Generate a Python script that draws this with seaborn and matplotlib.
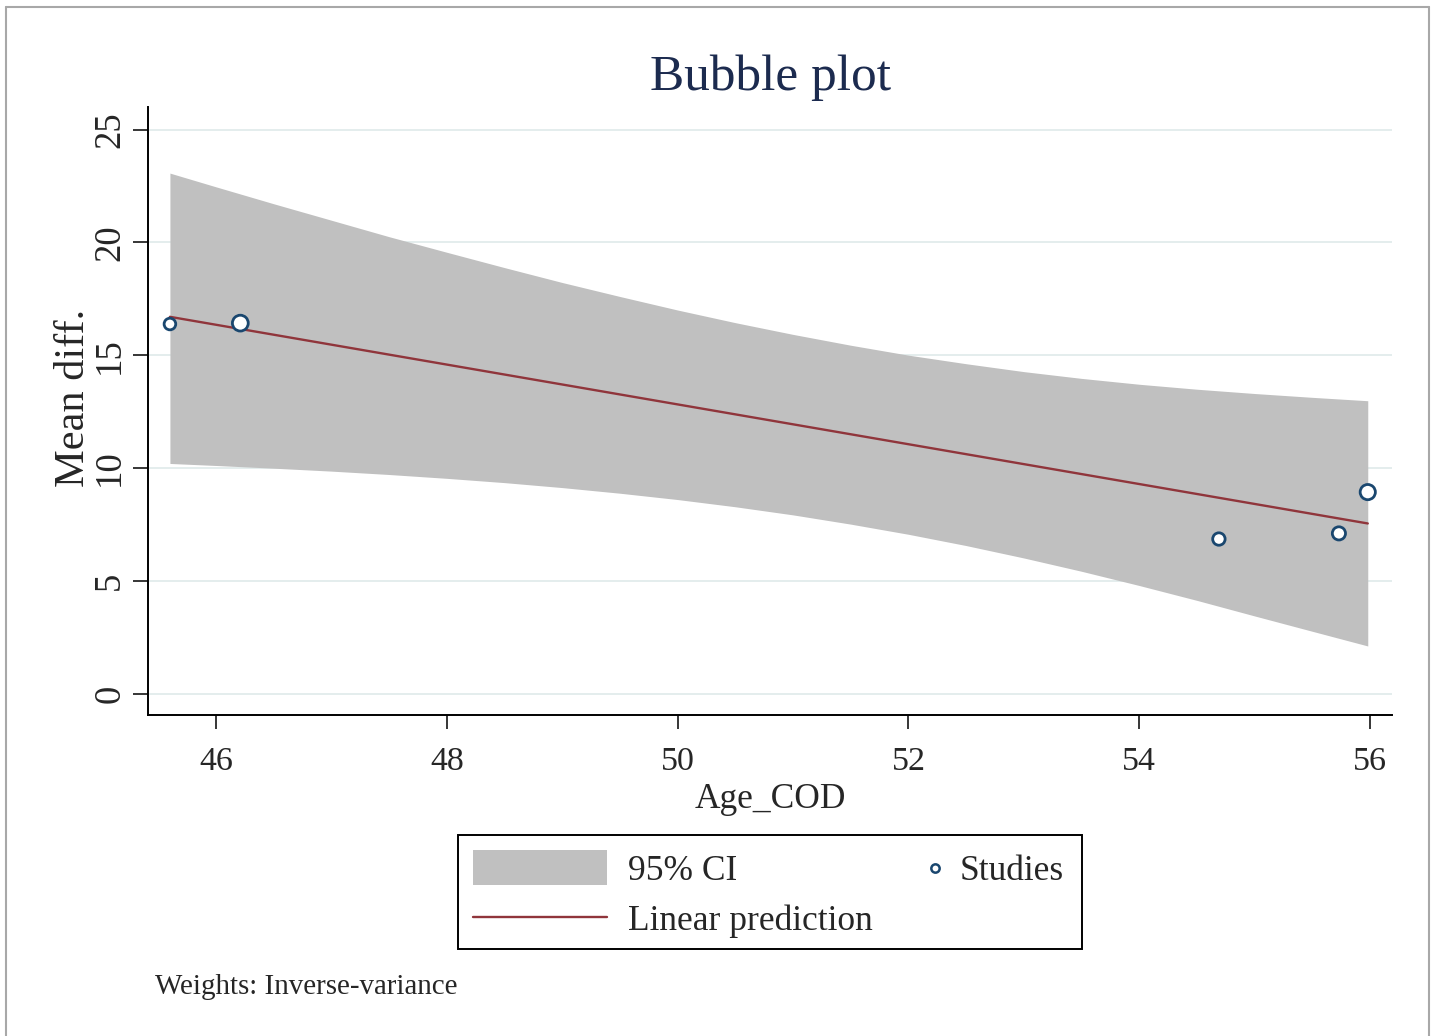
import matplotlib
matplotlib.use("Agg")
import matplotlib.pyplot as plt
from matplotlib.patches import Rectangle
from matplotlib.lines import Line2D
import pandas as pd
import seaborn as sns

# Study-level observations (x = mean age, y = mean difference, inverse-variance weight)
age_cod = [45.60, 46.21, 54.69, 55.73, 55.98]
mean_diff = [16.38, 16.42, 6.85, 7.10, 8.93]
weights = [0.6, 1.2, 0.7, 0.8, 1.1]

# Fitted meta-regression line
fit_x = [45.60, 55.98]
fit_y = [16.70, 7.54]

# 95% confidence band of the fitted line
ci_x = [45.60, 46.00, 46.50, 47.00, 47.50, 48.00, 48.50, 49.00, 49.50, 50.00, 50.50,
        51.00, 51.50, 52.00, 52.50, 53.00, 53.50, 54.00, 54.50, 55.00, 55.50, 55.98]
ci_upper = [23.07, 22.46, 21.71, 20.98, 20.25, 19.56, 18.88, 18.22, 17.60, 17.00, 16.44,
            15.92, 15.44, 15.00, 14.62, 14.27, 13.97, 13.71, 13.49, 13.30, 13.13, 12.98]
ci_lower = [10.20, 10.11, 9.99, 9.86, 9.71, 9.54, 9.35, 9.13, 8.88, 8.60, 8.28,
            7.92, 7.51, 7.06, 6.56, 6.01, 5.42, 4.79, 4.13, 3.44, 2.76, 2.11]

x_ticks = [46, 48, 50, 52, 54, 56]
y_ticks = [0, 5, 10, 15, 20, 25]

studies = pd.DataFrame({"Age_COD": age_cod, "Mean diff.": mean_diff, "w": weights})
fit = pd.DataFrame({"Age_COD": fit_x, "pred": fit_y})
band = pd.DataFrame({"Age_COD": ci_x, "upper": ci_upper, "lower": ci_lower})

sns.set_style("ticks")
plt.rcParams["font.family"] = ["Liberation Serif", "DejaVu Serif"]

NAVY = "#1a476f"
MAROON = "#90353b"
BAND = "#c0c0c0"
GRID = "#e4eded"

fig = plt.figure(figsize=(14.34, 10.36), dpi=100)
fig.patch.set_facecolor("white")
ax = fig.add_axes([148 / 1434, 1 - 715 / 1036, 1244 / 1434, 608 / 1036])

for yv in y_ticks:
    ax.axhline(yv, color=GRID, lw=1.4, zorder=0)

ax.fill_between(band["Age_COD"], band["upper"], band["lower"], color=BAND, lw=0, zorder=1)
sns.lineplot(data=fit, x="Age_COD", y="pred", color=MAROON, lw=1.7, ax=ax, zorder=2)
sns.scatterplot(data=studies, x="Age_COD", y="Mean diff.", size="w", sizes=(70, 130),
                color="white", edgecolor=NAVY, linewidth=2.0, legend=False, ax=ax, zorder=3)

ax.set_xlim(45.41, 56.19)
ax.set_ylim(-0.95, 26.0)
ax.set_xticks(x_ticks)
ax.set_yticks(y_ticks)
ax.set_xticklabels([str(v) for v in x_ticks], fontsize=24.5)
ax.set_yticklabels([str(v) for v in y_ticks], fontsize=26.5, rotation=90, va="center")
ax.tick_params(axis="y", direction="out", length=11, width=1.1, pad=4, color="black")
ax.tick_params(axis="x", direction="out", length=10, width=1.1, pad=13, color="black")
for s in ["top", "right"]:
    ax.spines[s].set_visible(False)
for s in ["left", "bottom"]:
    ax.spines[s].set_linewidth(1.4)
    ax.spines[s].set_color("black")

ax.set_xlabel("Age_COD", fontsize=25.5)
ax.xaxis.set_label_coords(0.5, -0.139)
ax.xaxis.label.set_va("center")
ax.set_ylabel("Mean diff.", fontsize=30.5)
ax.yaxis.set_label_coords(-0.0595, 0.521)
ax.yaxis.label.set_va("center")

ax.set_title("Bubble plot", fontsize=37, color="#1c2b4f", pad=12)

# Legend box
fig.add_artist(Rectangle((458 / 1434, 1 - 949 / 1036), 624 / 1434, 114 / 1036,
                         transform=fig.transFigure, fill=False, edgecolor="black", lw=1.4))
fig.add_artist(Rectangle((473 / 1434, 1 - 885 / 1036), 134 / 1434, 35 / 1036,
                         transform=fig.transFigure, facecolor=BAND, edgecolor="none"))
fig.add_artist(Line2D([473 / 1434, 607 / 1434], [1 - 917 / 1036, 1 - 917 / 1036],
                      transform=fig.transFigure, color=MAROON, lw=1.7))
fig.add_artist(Line2D([935 / 1434], [1 - 868 / 1036], transform=fig.transFigure,
                      marker="o", markersize=6, markerfacecolor="white",
                      markeredgecolor=NAVY, markeredgewidth=1.8, lw=0))
fig.text(628 / 1434, 1 - 872 / 1036, "95% CI", fontsize=25.5, va="center", ha="left")
fig.text(628 / 1434, 1 - 921 / 1036, "Linear prediction", fontsize=25.5, va="center", ha="left")
fig.text(960 / 1434, 1 - 872 / 1036, "Studies", fontsize=25.5, va="center", ha="left")

fig.text(155 / 1434, 1 - 987 / 1036, "Weights: Inverse-variance", fontsize=20.9,
         va="center", ha="left")

# Outer frame of the graph region
frame_kw = dict(transform=fig.transFigure, color="#a8a8a8", lw=1.5)
fig.add_artist(Line2D([6.5 / 1434, 6.5 / 1434], [0, 1 - 6.5 / 1036], **frame_kw))
fig.add_artist(Line2D([6.5 / 1434, 1429 / 1434], [1 - 6.5 / 1036, 1 - 6.5 / 1036], **frame_kw))
fig.add_artist(Line2D([1429 / 1434, 1429 / 1434], [0, 1 - 6.5 / 1036], **frame_kw))

fig.savefig("out.png", dpi=100, facecolor="white")
